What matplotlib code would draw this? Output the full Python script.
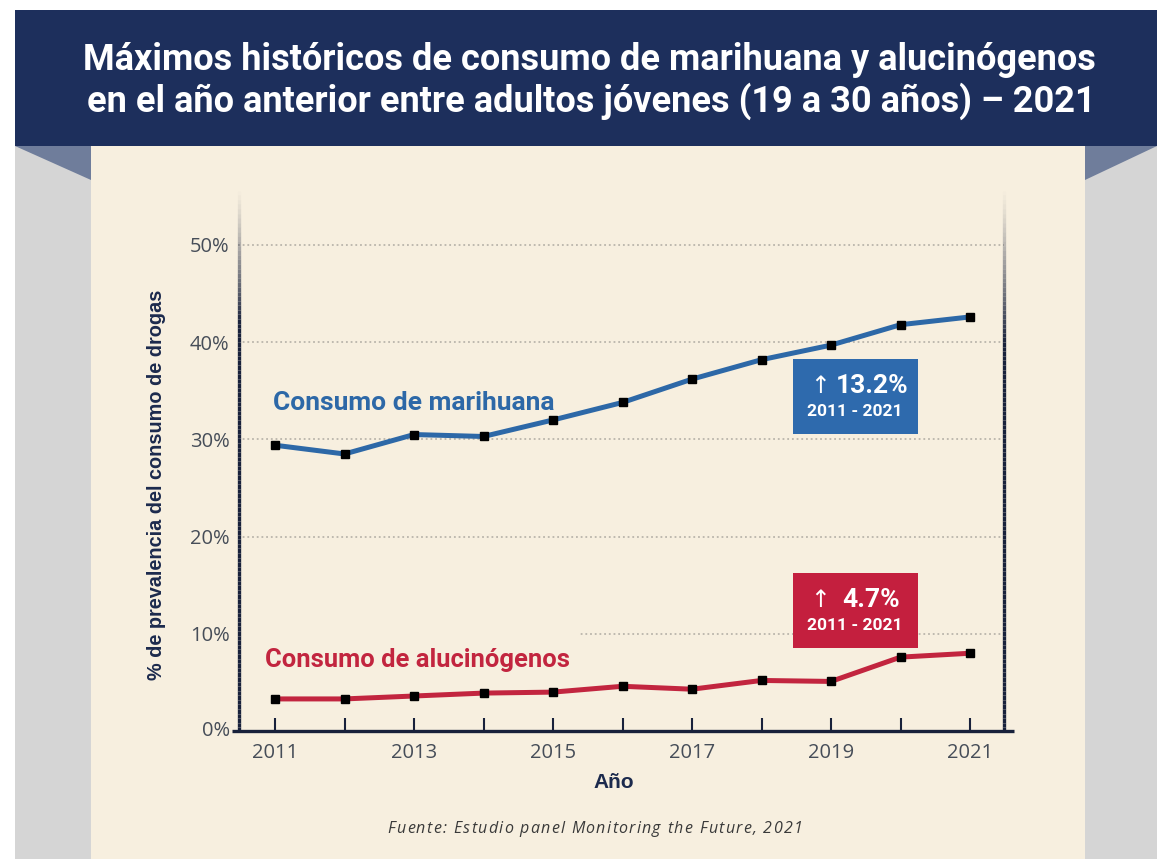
import matplotlib
matplotlib.use("Agg")
import matplotlib.pyplot as plt
from matplotlib.patches import Rectangle, Polygon
from matplotlib.collections import LineCollection
import numpy as np

# ---- data -------------------------------------------------------------
years = [2011, 2012, 2013, 2014, 2015, 2016, 2017, 2018, 2019, 2020, 2021]
marihuana = [29.4, 28.5, 30.5, 30.3, 32.0, 33.8, 36.2, 38.2, 39.7, 41.8, 42.6]
alucinogenos = [3.3, 3.3, 3.6, 3.9, 4.0, 4.6, 4.3, 5.2, 5.1, 7.6, 8.0]
ytick_values = [0, 10, 20, 30, 40, 50]
ytick_labels = ["0%", "10%", "20%", "30%", "40%", "50%"]
xtick_labels = [str(y) if y % 2 == 1 else "" for y in years]

title_lines = ["Máximos históricos de consumo de marihuana y alucinógenos",
               "en el año anterior entre adultos jóvenes (19 a 30 años) – 2021"]
label_mar = "Consumo de marihuana"
label_alu = "Consumo de alucinógenos"
change_mar = "13.2%"
change_alu = "4.7%"
period = "2011 - 2021"
ylabel = "% de prevalencia del consumo de drogas"
xlabel = "Año"
source = "Fuente: Estudio panel Monitoring the Future, 2021"

# ---- colours ----------------------------------------------------------
NAVY = "#1d2f5c"
FOLD = "#6f7d9b"
SIDE = "#d5d5d5"
CREAM = "#f7efdf"
AXIS = "#18213b"
BLUE = "#2d68a7"
RED = "#c2253f"
BOX_BLUE = "#2e6aad"
BOX_RED = "#c41f3e"
TICK = "#464d58"

W, H = 1157, 859
fig = plt.figure(figsize=(W / 100, H / 100), dpi=100, facecolor="white")


def fx(x):
    return x / W


def fy(y):
    return 1 - y / H


def frect(x0, y0, x1, y1, color, z=-10):
    fig.add_artist(Rectangle((fx(x0), fy(y1)), fx(x1) - fx(x0), fy(y0) - fy(y1),
                             transform=fig.transFigure, facecolor=color,
                             edgecolor="none", zorder=z))


# page background: grey sides, cream panel, navy banner with folds
frect(15, 146, W, H, SIDE)
frect(91, 146, 1085, H, CREAM, z=-9)
frect(15, 10, W, 146, NAVY, z=-8)
for pts in ([(15, 146), (91, 146), (91, 180)],
            [(1085, 146), (W, 146), (1085, 180)]):
    fig.add_artist(Polygon([(fx(a), fy(b)) for a, b in pts], closed=True,
                           transform=fig.transFigure, facecolor=FOLD,
                           edgecolor="none", zorder=-8))

fig.text(fx(589), fy(60), title_lines[0], ha="center", va="center",
         color="white", fontsize=26, fontweight="bold", family="Roboto")
fig.text(fx(591), fy(101), title_lines[1], ha="center", va="center",
         color="white", fontsize=26, fontweight="bold", family="Roboto")

# ---- axes -------------------------------------------------------------
ax_l, ax_r, ax_t, ax_b = 238, 1004, 190, 731
ax = fig.add_axes([fx(ax_l), fy(ax_b), fx(ax_r) - fx(ax_l), fy(ax_t) - fy(ax_b)])
ax.set_facecolor("none")
px_per_year = (970 - 275) / 10
px_per_pct = (731 - 245) / 50
ax.set_xlim(2011 - (275 - ax_l) / px_per_year, 2021 + (ax_r - 970) / px_per_year)
ax.set_ylim(0, (ax_b - ax_t) / px_per_pct)
for s in ax.spines.values():
    s.set_visible(False)

ax.set_yticks(ytick_values[1:])
ax.set_yticklabels(ytick_labels[1:])
ax.tick_params(axis="y", length=0, pad=6, labelsize=14.5, labelcolor=TICK)
ax.set_xticks(years)
ax.set_xticklabels(xtick_labels)
ax.tick_params(axis="x", direction="in", length=9.5, width=1.5, color=AXIS,
               pad=9, labelsize=14.5, labelcolor=TICK)
for lab in ax.get_xticklabels() + ax.get_yticklabels():
    lab.set_family("Open Sans")
ax.set_axisbelow(True)
ax.grid(axis="y", color="#bab5ab", linestyle=(0, (1, 1.6)), linewidth=1.3)
ax.grid(axis="x", visible=False)

# "0%" label sits left of the x axis extension
fig.text(fx(230), fy(731), ytick_labels[0], ha="right", va="center",
         fontsize=14.5, color=TICK, family="Open Sans")


# axis lines: vertical ones fade towards the top
def fading_line(x, y_top, y_full, y_bot, lw):
    ys = np.linspace(y_top, y_bot, 120)
    segs = [[(fx(x), fy(ys[i])), (fx(x), fy(ys[i + 1]))] for i in range(len(ys) - 1)]
    alphas = np.clip((ys[:-1] - y_top) / (y_full - y_top), 0, 1) ** 1.3
    cols = [matplotlib.colors.to_rgba(AXIS, a) for a in alphas]
    fig.add_artist(LineCollection(segs, colors=cols, linewidths=lw,
                                  transform=fig.transFigure, zorder=5))


fading_line(239, 186, 320, 732, 2.4)
fading_line(1004, 186, 340, 732, 2.4)
fig.add_artist(plt.Line2D([fx(232), fx(1014)], [fy(731), fy(731)],
                          transform=fig.transFigure, color=AXIS, lw=2.4,
                          zorder=5, solid_capstyle="butt"))

# gap in the 10% gridline behind the hallucinogen label
ax.add_patch(Rectangle((fx(241), fy(640)), fx(580) - fx(241), fy(628) - fy(640),
                       transform=fig.transFigure, facecolor=CREAM,
                       edgecolor="none", zorder=1))

# ---- series -----------------------------------------------------------
ax.plot(years, marihuana, color=BLUE, lw=3.6, zorder=3, solid_joinstyle="round",
        marker="s", ms=6, mfc="black", mec="black")
ax.plot(years, alucinogenos, color=RED, lw=3.6, zorder=3, solid_joinstyle="round",
        marker="s", ms=6, mfc="black", mec="black")


def yr(x):
    return 2011 + (x - 275) / px_per_year


def pc(y):
    return (731 - y) / px_per_pct


ax.text(yr(273), pc(403), label_mar, color=BLUE, fontsize=19, fontweight="bold",
        family="Roboto", ha="left", va="center", zorder=4)
ax.text(yr(265), pc(660), label_alu, color=RED, fontsize=18.4, fontweight="bold",
        family="Roboto", ha="left", va="center", zorder=4)


# ---- change boxes ----------------------------------------------------
def change_box(y0, y1, color, value, y_val, y_per, x_val):
    ax.add_patch(Rectangle((yr(793), pc(y1)), yr(918) - yr(793), pc(y0) - pc(y1),
                           facecolor=color, edgecolor="none", zorder=4))
    ax.text(yr(820), pc(y_val), "↑", color="white", fontsize=17,
            family="DejaVu Sans", ha="center", va="center", zorder=5)
    ax.text(yr(x_val), pc(y_val), value, color="white", fontsize=19,
            fontweight="bold", family="Roboto", ha="left", va="center", zorder=5)
    ax.text(yr(855), pc(y_per), period, color="white", fontsize=12.5,
            fontweight="bold", family="Roboto", ha="center", va="center", zorder=5)


change_box(359, 434, BOX_BLUE, change_mar, 386, 412, 836)
change_box(573, 648, BOX_RED, change_alu, 600, 626, 842)

# ---- axis titles and source ------------------------------------------
fig.text(fx(157), fy(485), ylabel, rotation=90, ha="center", va="center",
         fontsize=14.3, fontweight="bold", color="#1c2a4d", family="Liberation Sans")
fig.text(fx(614), fy(782), xlabel, ha="center", va="center",
         fontsize=15, fontweight="bold", color="#1c2a4d", family="Liberation Sans")

# tracked (letter-spaced) source line
renderer = fig.canvas.get_renderer()
src_props = dict(fontsize=11.5, style="italic", color="#3a3a3a", family="Open Sans")
track = 1.3


def prefix_width(s):
    if not s:
        return 0.0
    t = fig.text(0, 0, s, **src_props)
    w = t.get_window_extent(renderer).width
    t.remove()
    return w


total = prefix_width(source) + track * (len(source) - 1)
x0 = 595 - total / 2
for i, ch in enumerate(source):
    if ch == " ":
        continue
    xpos = x0 + prefix_width(source[:i]) + track * i
    fig.text(fx(xpos), fy(829), ch, ha="left", va="center", **src_props)

fig.savefig("out.png", dpi=100, facecolor="white")
